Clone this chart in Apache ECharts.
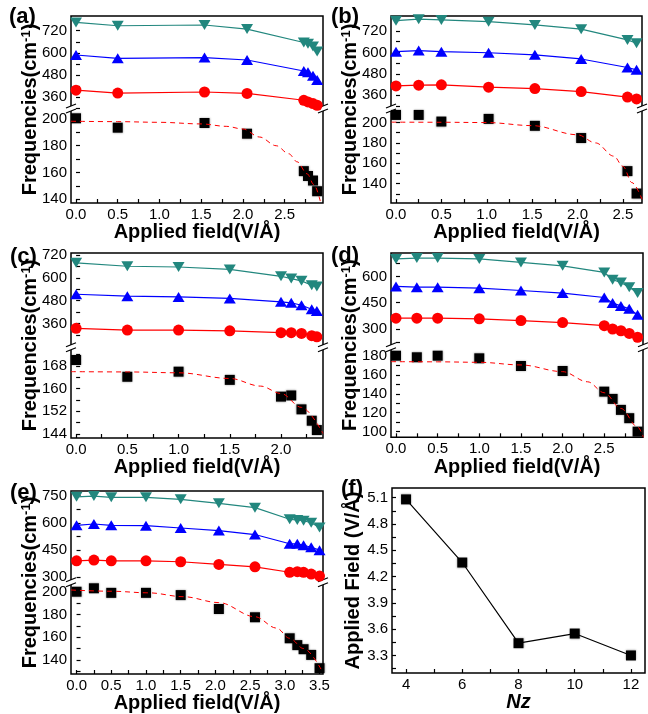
<!DOCTYPE html>
<html>
<head>
<meta charset="utf-8">
<script src="https://cdn.jsdelivr.net/npm/echarts@6/dist/echarts.min.js"></script>
<style>
  html, body { margin: 0; padding: 0; background: #fff; }
  #chart { width: 648px; height: 714px; }
</style>
</head>
<body>
<div id="chart"></div>
<script>
// ---- data ----
const fieldA = [0, 0.5, 1.54, 2.05, 2.73, 2.78, 2.84, 2.89];
const tealA = [765, 747, 751, 729, 656, 649, 634, 607];
const blueA = [588, 570, 574, 561, 501, 494, 475, 452];
const redA = [397, 381, 387, 379, 342, 333, 324, 315];
const blackA = [200.5, 193.5, 197, 189, 161, 157.4, 154, 146];
const fitXA = [-0.06, 0.5, 1.0, 1.5, 1.8, 2.0, 2.2, 2.4, 2.55, 2.65, 2.77, 2.85, 2.93];
const fitYA = [198.3, 198, 197.5, 196.3, 194.5, 192.5, 186.5, 180, 174, 168, 159, 151, 138];

const fieldB = [0, 0.25, 0.5, 1.02, 1.53, 2.04, 2.55, 2.65];
const tealB = [778, 786, 782, 772, 754, 730, 670, 651];
const blueB = [604, 610, 604, 598, 586, 563, 515, 502];
const redB = [412, 416, 418, 405, 397, 380, 349, 339];
const blackB = [207.5, 207.5, 201, 203.6, 196.8, 184.8, 152.3, 130.3];
const fitXB = [-0.05, 0.5, 1.0, 1.5, 2.0, 2.2, 2.4, 2.5, 2.6, 2.71];
const fitYB = [200.4, 200.3, 200, 197, 188, 180, 167, 157, 141, 124.7];

const fieldC = [0, 0.5, 1.0, 1.5, 2.0, 2.1, 2.2, 2.3, 2.35];
const tealC = [680, 662, 658, 645, 609, 597, 585, 562, 555];
const blueC = [514, 504, 500, 492, 474, 469, 456, 435, 425];
const redC = [334, 325, 325, 321, 311, 311, 307, 295, 289];
const blackC = [170.1, 164.2, 166, 163.1, 157.2, 157.6, 152.7, 148.7, 145.4];
const fitXC = [-0.05, 0.5, 1.0, 1.5, 1.8, 2.0, 2.2, 2.41];
const fitYC = [166, 165.9, 165.6, 163.6, 160.9, 158.3, 153.4, 144.2];

const fieldD = [0, 0.25, 0.5, 1.0, 1.5, 2.0, 2.5, 2.6, 2.7, 2.8, 2.9];
const tealD = [700, 705, 705, 700, 680, 661, 623, 581, 566, 539, 505];
const blueD = [543, 539, 539, 533, 520, 505, 480, 448, 432, 415, 381];
const redD = [362, 362, 362, 358, 348, 337, 319, 300, 290, 275, 253];
const blackD = [180.3, 178.6, 180.3, 177.5, 169.4, 164.1, 142.3, 134.6, 123, 114.2, 100];
const fitXD = [-0.06, 0.5, 1.0, 1.5, 2.0, 2.3, 2.5, 2.7, 2.9, 2.97];
const fitYD = [174, 173.8, 173.3, 170.5, 163.4, 152.7, 141.1, 124.5, 105, 94];

const fieldE = [0, 0.25, 0.5, 1.0, 1.5, 2.05, 2.57, 3.07, 3.18, 3.27, 3.38, 3.5];
const tealE = [744, 748, 741, 741, 730, 708, 684, 620, 616, 612, 601, 575];
const blueE = [587, 594, 587, 585, 572, 558, 536, 485, 485, 477, 466, 450];
const redE = [391, 395, 391, 391, 386, 371, 358, 328, 331, 328, 318, 307];
const blackE = [200, 203, 199, 199, 197, 184.8, 177.5, 159, 153, 149.4, 144.4, 132.7];
const fitXE = [-0.08, 0.5, 1.04, 1.54, 2.05, 2.57, 2.88, 3.07, 3.27, 3.53];
const fitYE = [201.5, 200.4, 199, 195.6, 190.4, 178, 168, 159, 150, 131];

const nzF = [4, 6, 8, 10, 12];
const critFieldF = [5.08, 4.36, 3.44, 3.55, 3.30];

// tick labels
const fieldTicks = [0, 0.5, 1.0, 1.5, 2.0, 2.5, 3.0, 3.5];
const fieldMinor = [0.25, 0.75, 1.25, 1.75, 2.25, 2.75, 3.25];
const upTicksABC = [360, 480, 600, 720];
const upMinorABC = [300, 420, 540, 660, 780];
const loTicksAB = [140, 160, 180, 200];
const loMinorAB = [130, 150, 170, 190, 210];
const loTicksC = [144, 152, 160, 168];
const loMinorC = [148, 156, 164, 172];
const upTicksD = [300, 450, 600];
const upMinorD = [225, 375, 525, 675];
const loTicksD = [100, 120, 140, 160, 180];
const loMinorD = [110, 130, 150, 170];
const upTicksE = [300, 450, 600, 750];
const upMinorE = [375, 525, 675];
const loTicksE = [140, 160, 180, 200];
const loMinorE = [130, 150, 170, 190];
const nzTicks = [4, 6, 8, 10, 12];
const nzMinor = [5, 7, 9, 11];
const critTicks = [3.3, 3.6, 3.9, 4.2, 4.5, 4.8, 5.1];
const critMinor = [3.15, 3.45, 3.75, 4.05, 4.35, 4.65, 4.95];

// ---- layout ----
const FONT = '"Liberation Sans", Arial, sans-serif';
const TEAL = '#22877e';
const BLUE = '#0000ff';
const RED = '#ff0000';

const panels = [
  { tag: '(a)', box: [71, 16, 323, 203], brk: 108, tagAt: [9, 6], xr: [-0.06, 2.96], up: [300, 800], lo: [137.2, 208.2],
    x: fieldA, teal: tealA, blue: blueA, red: redA, black: blackA, fx: fitXA, fy: fitYA,
    upT: upTicksABC, upM: upMinorABC, loT: loTicksAB, loM: loMinorAB },
  { tag: '(b)', box: [391, 16, 642, 203], brk: 108, tagAt: [331, 6], xr: [-0.055, 2.71], up: [288, 804], lo: [121, 214.3],
    x: fieldB, teal: tealB, blue: blueB, red: redB, black: blackB, fx: fitXB, fy: fitYB,
    upT: upTicksABC, upM: upMinorABC, loT: loTicksAB, loM: loMinorAB },
  { tag: '(c)', box: [71, 253, 323, 438], brk: 346.7, tagAt: [10, 246], xr: [-0.05, 2.41], up: [237, 732], lo: [142.6, 174.8],
    x: fieldC, teal: tealC, blue: blueC, red: redC, black: blackC, fx: fitXC, fy: fitYC,
    upT: upTicksABC, upM: upMinorABC, loT: loTicksC, loM: loMinorC },
  { tag: '(d)', box: [391, 253, 643, 437.3], brk: 346.7, tagAt: [331, 245], xr: [-0.06, 2.965], up: [199, 734], lo: [94, 189.8],
    x: fieldD, teal: tealD, blue: blueD, red: redD, black: blackD, fx: fitXD, fy: fitYD,
    upT: upTicksD, upM: upMinorD, loT: loTicksD, loM: loMinorD },
  { tag: '(e)', box: [71, 491, 323, 674], brk: 581.7, tagAt: [10, 482], xr: [-0.08, 3.55], up: [276, 776], lo: [127.6, 208.8],
    x: fieldE, teal: tealE, blue: blueE, red: redE, black: blackE, fx: fitXE, fy: fitYE,
    upT: upTicksE, upM: upMinorE, loT: loTicksE, loM: loMinorE }
];

const labelStyle = { color: '#000', fontSize: 15, fontFamily: FONT };
const nameStyle = {
  color: '#000', fontSize: 20, fontWeight: 'bold', fontFamily: FONT,
  rich: { sup: { fontSize: 13, fontWeight: 'bold', fontFamily: FONT, verticalAlign: 'top', color: '#000' } }
};

const inRange = (vals, r) => vals.filter((v) => v >= r[0] && v <= r[1]);

const grid = [], xAxis = [], yAxis = [], series = [], title = [], graphic = [];

function breakMark(x, y) {
  return {
    type: 'group', x: x, y: y, z: 100,
    children: [
      { type: 'polygon', shape: { points: [[-5, 0], [5, -4], [5, 1], [-5, 5]] }, style: { fill: '#fff' } },
      { type: 'line', shape: { x1: -5, y1: 0, x2: 5, y2: -4 }, style: { stroke: '#000', lineWidth: 1.2 } },
      { type: 'line', shape: { x1: -5, y1: 5, x2: 5, y2: 1 }, style: { stroke: '#000', lineWidth: 1.2 } }
    ]
  };
}

const hidden = { axisLine: { show: false }, axisTick: { show: false }, axisLabel: { show: false }, splitLine: { show: false } };

function tickAxis(range, major, minor, fmt, extra) {
  const ticks = inRange(major.concat(minor), range).sort((a, b) => a - b);
  return Object.assign({
    type: 'value', min: range[0], max: range[1],
    axisLine: { show: false },
    axisTick: { show: true, inside: true, length: 4, lineStyle: { color: '#000', width: 1.2 }, customValues: ticks },
    axisLabel: { show: true, margin: 4, formatter: fmt, customValues: inRange(major, range), ...labelStyle },
    splitLine: { show: false }
  }, extra || {});
}

const squareStyle = { color: '#000', opacity: 1, shadowColor: 'rgba(0,0,0,0.35)', shadowBlur: 2 };

panels.forEach((p) => {
  const [l, t, r, b] = p.box;
  const w = r - l;
  // frame grid
  const gi = grid.length;
  grid.push({ left: l, top: t, width: w, height: b - t, show: true, borderColor: '#000', borderWidth: 1.5, backgroundColor: 'transparent', outerBoundsMode: 'none' });
  xAxis.push({ gridIndex: gi, type: 'value', show: false });
  yAxis.push({
    gridIndex: gi, type: 'value', ...hidden,
    name: 'Frequencies(cm{sup|-1})', nameLocation: 'middle', nameGap: 31, nameTextStyle: nameStyle
  });
  // upper grid
  const ui = grid.length;
  grid.push({ left: l, top: t, width: w, height: p.brk - t, outerBoundsMode: 'none' });
  xAxis.push({ gridIndex: ui, type: 'value', min: p.xr[0], max: p.xr[1], ...hidden });
  yAxis.push(tickAxis(p.up, p.upT, p.upM, (v) => String(v), { gridIndex: ui }));
  // lower grid
  const li = grid.length;
  grid.push({ left: l, top: p.brk, width: w, height: b - p.brk, outerBoundsMode: 'none' });
  xAxis.push(tickAxis(p.xr, fieldTicks, fieldMinor, (v) => v.toFixed(1), {
    gridIndex: li, name: 'Applied field(V/Å)', nameLocation: 'middle', nameGap: 17,
    nameTextStyle: Object.assign({}, nameStyle, { verticalAlign: 'top' })
  }));
  yAxis.push(tickAxis(p.lo, p.loT, p.loM, (v) => String(v), { gridIndex: li }));

  const lineSeries = (vals, color, symbol, rotate, size) => ({
    type: 'line', xAxisIndex: ui, yAxisIndex: ui,
    data: p.x.map((x, i) => [x, vals[i]]),
    symbol: symbol, symbolRotate: rotate, symbolSize: size,
    itemStyle: { color: color, opacity: 1 }, lineStyle: { color: color, width: 1.2 },
    animation: false, z: 3
  });
  series.push(lineSeries(p.teal, TEAL, 'triangle', 180, [12, 10]));
  series.push(lineSeries(p.blue, BLUE, 'triangle', 0, [12, 10]));
  series.push(lineSeries(p.red, RED, 'circle', 0, 11));
  series.push({
    type: 'scatter', xAxisIndex: li, yAxisIndex: li,
    data: p.x.map((x, i) => [x, p.black[i]]),
    symbol: 'rect', symbolSize: 10,
    itemStyle: squareStyle,
    animation: false, z: 3
  });
  series.push({
    type: 'line', xAxisIndex: li, yAxisIndex: li,
    data: p.fx.map((x, i) => [x, p.fy[i]]),
    showSymbol: false, smooth: 0.35, smoothMonotone: 'x',
    lineStyle: { color: RED, width: 1, type: [5, 4] },
    animation: false, z: 4
  });

  title.push({ text: p.tag, left: p.tagAt[0], top: p.tagAt[1], padding: 0,
    textStyle: { fontSize: 22, fontWeight: 'bold', fontFamily: FONT, color: '#000' } });
  graphic.push(breakMark(l, p.brk));
  graphic.push(breakMark(r, p.brk));
});

// panel (f)
{
  const fi = grid.length;
  const nzRange = [3.5, 12.5];
  const critRange = [3.1, 5.21];
  grid.push({ left: 392, top: 488, width: 253, height: 185, show: true, borderColor: '#000', borderWidth: 1.5, backgroundColor: 'transparent', outerBoundsMode: 'none' });
  xAxis.push(tickAxis(nzRange, nzTicks, nzMinor, (v) => String(v), {
    gridIndex: fi, name: 'Nz', nameLocation: 'middle', nameGap: 10,
    nameTextStyle: Object.assign({}, nameStyle, { fontStyle: 'italic', verticalAlign: 'top' })
  }));
  yAxis.push(tickAxis(critRange, critTicks, critMinor, (v) => v.toFixed(1), {
    gridIndex: fi, name: 'Applied Field (V/Å)', nameLocation: 'middle', nameGap: 25, nameTextStyle: nameStyle
  }));
  series.push({
    type: 'line', xAxisIndex: fi, yAxisIndex: fi,
    data: nzF.map((x, i) => [x, critFieldF[i]]),
    symbol: 'rect', symbolSize: 10,
    itemStyle: squareStyle,
    lineStyle: { color: '#000', width: 1.2, shadowBlur: 0 },
    animation: false
  });
  title.push({ text: '(f)', left: 341, top: 478, padding: 0,
    textStyle: { fontSize: 22, fontWeight: 'bold', fontFamily: FONT, color: '#000' } });
}

const chart = echarts.init(document.getElementById('chart'), null, { renderer: 'canvas' });
chart.setOption({
  animation: false,
  backgroundColor: '#fff',
  textStyle: { fontFamily: FONT },
  title: title,
  grid: grid,
  xAxis: xAxis,
  yAxis: yAxis,
  series: series,
  graphic: graphic
});
</script>
</body>
</html>
